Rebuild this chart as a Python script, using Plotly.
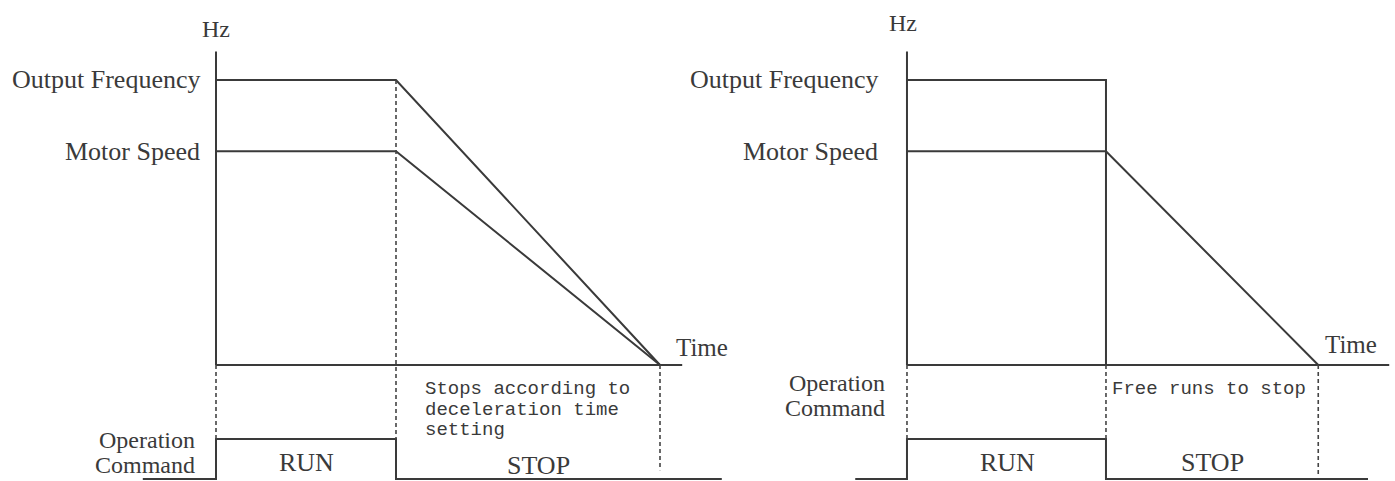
import plotly.graph_objects as go

# ---------------------------------------------------------------
# Stop method timing diagrams
#   left : ramp to stop (decelerates along the decel time)
#   right: coast to stop (output cut, motor free-runs)
# time in seconds (schematic), frequency in Hz
# ---------------------------------------------------------------

OUTPUT_HZ = 60
MOTOR_HZ = 45
HZ_AXIS_TOP = 66

# ramp-to-stop panel
ramp_t = [0.0, 3.0, 7.4]
ramp_output = [OUTPUT_HZ, OUTPUT_HZ, 0]
ramp_motor = [MOTOR_HZ, MOTOR_HZ, 0]
ramp_time_axis_end = 7.77
ramp_cmd_t = [-1.22, 0.0, 0.0, 3.0, 3.0, 8.43]
ramp_cmd = [0, 0, 1, 1, 0, 0]

# coast-to-stop panel
coast_t = [0.0, 3.0, 6.2]
coast_output_t = [0.0, 3.0, 3.0]
coast_output = [OUTPUT_HZ, OUTPUT_HZ, 0]
coast_motor = [MOTOR_HZ, MOTOR_HZ, 0]
coast_time_axis_end = 7.27
coast_cmd_t = [-0.78, 0.0, 0.0, 3.0, 3.0, 6.95]
coast_cmd = [0, 0, 1, 1, 0, 0]

# run command strip drawn below the frequency plot
CMD_LOW_Y = -24.0
CMD_HIGH_Y = -15.58


def cmd_y(v):
    return CMD_LOW_Y + v * (CMD_HIGH_Y - CMD_LOW_Y)


INK = "#3a3a3a"
LINE_W = 2
SERIF = "Liberation Serif, Times New Roman, serif"
MONO = "Liberation Mono, DejaVu Sans Mono, monospace"

fig = go.Figure()


def solid(x, y, xaxis):
    fig.add_trace(go.Scatter(x=x, y=y, xaxis=xaxis, yaxis="y", mode="lines",
                             line=dict(color=INK, width=LINE_W), hoverinfo="skip",
                             showlegend=False))


def dashed(x, y, xaxis):
    fig.add_trace(go.Scatter(x=x, y=y, xaxis=xaxis, yaxis="y", mode="lines",
                             line=dict(color="#444444", width=1.6, dash="4px,3px"),
                             hoverinfo="skip", showlegend=False))


# ---- left panel ----
solid([0, 0], [0, HZ_AXIS_TOP], "x")
solid([0, ramp_time_axis_end], [0, 0], "x")
solid(ramp_t, ramp_output, "x")
solid(ramp_t, ramp_motor, "x")
solid(ramp_cmd_t, [cmd_y(v) for v in ramp_cmd], "x")
dashed([ramp_t[0], ramp_t[0]], [0, cmd_y(1)], "x")
dashed([ramp_t[1], ramp_t[1]], [OUTPUT_HZ, cmd_y(1)], "x")
dashed([ramp_t[2], ramp_t[2]], [0, cmd_y(0.22)], "x")

# ---- right panel ----
solid([0, 0], [0, HZ_AXIS_TOP], "x2")
solid([0, coast_time_axis_end], [0, 0], "x2")
solid(coast_output_t, coast_output, "x2")
solid(coast_t, coast_motor, "x2")
solid(coast_cmd_t, [cmd_y(v) for v in coast_cmd], "x2")
dashed([coast_t[0], coast_t[0]], [0, cmd_y(1)], "x2")
dashed([coast_t[1], coast_t[1]], [0, cmd_y(1)], "x2")
dashed([coast_t[2], coast_t[2]], [0, cmd_y(0.08)], "x2")

annotations = []


def label(text, x, y, xref, anchor="right", size=26, family=SERIF):
    annotations.append(dict(text=text, x=x, y=y, xref=xref, yref="y",
                            xanchor=anchor, yanchor="middle", showarrow=False,
                            borderpad=0,
                            font=dict(family=family, size=size, color=INK)))


# left panel text
label("Hz", 0.0, 70.7, "x", "center", 24)
label("Output Frequency", -0.25, OUTPUT_HZ, "x")
label("Motor Speed", -0.25, MOTOR_HZ, "x")
label("Time", 7.65, 3.6, "x", "left", 25)
label("Operation", -0.33, -15.8, "x", size=24)
label("Command", -0.33, -21.0, "x", size=24)
label("RUN", 1.5, -20.6, "x", "center")
label("STOP", 5.37, -21.2, "x", "center")
label("Stops according to", 3.47, -5.0, "x", "left", 19, MONO)
label("deceleration time", 3.47, -9.4, "x", "left", 19, MONO)
label("setting", 3.47, -13.7, "x", "left", 19, MONO)

# right panel text
label("Hz", -0.06, 72.0, "x2", "center", 24)
label("Output Frequency", -0.42, OUTPUT_HZ, "x2")
label("Motor Speed", -0.42, MOTOR_HZ, "x2")
label("Time", 6.29, 4.4, "x2", "left", 25)
label("Operation", -0.31, -3.8, "x2", size=24)
label("Command", -0.31, -9.1, "x2", size=24)
label("RUN", 1.51, -20.6, "x2", "center")
label("STOP", 4.6, -20.6, "x2", "center")
label("Free runs to stop", 3.08, -5.0, "x2", "left", 19, MONO)

hidden = dict(visible=False, showgrid=False, zeroline=False)

fig.update_layout(
    width=1395, height=481, autosize=False,
    margin=dict(l=0, r=0, t=0, b=0),
    paper_bgcolor="white", plot_bgcolor="white",
    xaxis=dict(range=[-3.6, 19.65], domain=[0, 1], anchor="y", **hidden),
    xaxis2=dict(range=[-13.673, 7.357], overlaying="x", anchor="y", **hidden),
    yaxis=dict(range=[-24.42, 76.84], domain=[0, 1], anchor="x", **hidden),
    annotations=annotations,
    showlegend=False,
)

fig.write_html("out.html")
